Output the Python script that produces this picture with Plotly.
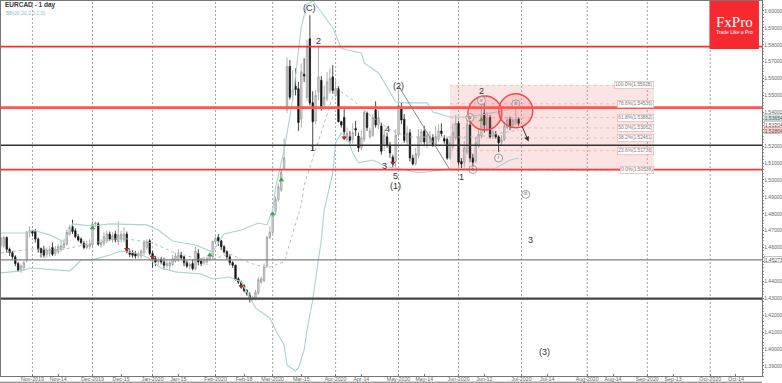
import plotly.graph_objects as go

bar_open = [1.4615,1.4610,1.4660,1.4590,1.4570,1.4545,1.4505,1.4470,1.4480,1.4525,
1.4690,1.4695,1.4695,1.4650,1.4595,1.4590,1.4560,1.4565,1.4600,1.4565,
1.4575,1.4590,1.4600,1.4620,1.4680,1.4725,1.4700,1.4665,1.4650,1.4625,
1.4600,1.4605,1.4615,1.4740,1.4740,1.4615,1.4625,1.4640,1.4680,1.4645,
1.4680,1.4635,1.4650,1.4645,1.4680,1.4575,1.4570,1.4565,1.4550,1.4550,
1.4570,1.4600,1.4640,1.4565,1.4535,1.4515,1.4530,1.4515,1.4495,1.4490,
1.4500,1.4520,1.4530,1.4555,1.4545,1.4510,1.4490,1.4505,1.4475,1.4565,
1.4520,1.4510,1.4515,1.4530,1.4545,1.4635,1.4660,1.4640,1.4605,1.4575,
1.4545,1.4510,1.4495,1.4415,1.4395,1.4375,1.4345,1.4315,1.4295,1.4300,
1.4330,1.4395,1.4405,1.4490,1.4660,1.4690,1.4815,1.4885,1.4940,1.5070,
1.5415,1.5672,1.5505,1.5555,1.5540,1.5360,1.5625,1.5490,1.5835,1.5457,
1.5350,1.5520,1.5590,1.5445,1.5480,1.5525,1.5610,1.5500,1.5540,1.5345,
1.5370,1.5240,1.5255,1.5240,1.5305,1.5260,1.5190,1.5240,1.5395,1.5255,
1.5265,1.5415,1.5325,1.5320,1.5205,1.5255,1.5205,1.5135,1.5110,1.5270,
1.5430,1.5360,1.5225,1.5280,1.5130,1.5095,1.5145,1.5225,1.5290,1.5210,
1.5220,1.5250,1.5215,1.5240,1.5290,1.5245,1.5240,1.5130,1.5195,1.5250,
1.5335,1.5110,1.5105,1.5165,1.5325,1.5130,1.5115,1.5200,1.5260,1.5395,
1.5300,1.5370,1.5260,1.5270,1.5255,1.5225,1.5240,1.5310,1.5360,1.5325,1.5335,1.5360]
bar_high = [1.4665,1.4668,1.4665,1.4600,1.4580,1.4555,1.4515,1.4500,1.4520,1.4700,
1.4725,1.4705,1.4710,1.4660,1.4600,1.4610,1.4600,1.4610,1.4630,1.4610,
1.4620,1.4640,1.4650,1.4705,1.4735,1.4765,1.4715,1.4680,1.4660,1.4640,
1.4640,1.4650,1.4760,1.4755,1.4750,1.4650,1.4690,1.4700,1.4695,1.4690,
1.4700,1.4755,1.4700,1.4720,1.4695,1.4590,1.4585,1.4580,1.4575,1.4590,
1.4645,1.4650,1.4650,1.4580,1.4550,1.4545,1.4545,1.4540,1.4525,1.4525,
1.4555,1.4570,1.4590,1.4575,1.4550,1.4525,1.4515,1.4530,1.4605,1.4590,
1.4535,1.4545,1.4545,1.4570,1.4640,1.4665,1.4680,1.4645,1.4615,1.4585,
1.4560,1.4520,1.4500,1.4425,1.4405,1.4385,1.4355,1.4335,1.4315,1.4350,
1.4425,1.4430,1.4505,1.4670,1.4725,1.4810,1.4900,1.4980,1.5060,1.5245,
1.5725,1.5710,1.5650,1.5660,1.5580,1.5690,1.5720,1.5830,1.5975,1.5525,
1.5530,1.5790,1.5615,1.5560,1.5640,1.5660,1.5680,1.5590,1.5555,1.5350,
1.5425,1.5310,1.5290,1.5335,1.5350,1.5280,1.5290,1.5415,1.5405,1.5310,
1.5390,1.5465,1.5410,1.5340,1.5300,1.5280,1.5225,1.5150,1.5300,1.5535,
1.5460,1.5390,1.5320,1.5300,1.5150,1.5190,1.5300,1.5300,1.5320,1.5285,
1.5290,1.5270,1.5320,1.5330,1.5335,1.5265,1.5250,1.5260,1.5335,1.5385,
1.5350,1.5130,1.5230,1.5360,1.5345,1.5155,1.5255,1.5300,1.5450,1.5455,
1.5400,1.5385,1.5300,1.5290,1.5265,1.5265,1.5345,1.5375,1.5375,1.5365,1.5455,1.5370]
bar_low = [1.4600,1.4600,1.4570,1.4550,1.4530,1.4490,1.4455,1.4450,1.4460,1.4510,
1.4660,1.4665,1.4630,1.4570,1.4540,1.4540,1.4540,1.4545,1.4550,1.4550,
1.4560,1.4575,1.4590,1.4610,1.4670,1.4680,1.4655,1.4635,1.4620,1.4590,
1.4590,1.4590,1.4600,1.4720,1.4610,1.4600,1.4610,1.4625,1.4640,1.4630,
1.4630,1.4615,1.4630,1.4630,1.4565,1.4545,1.4540,1.4535,1.4535,1.4535,
1.4555,1.4585,1.4555,1.4480,1.4490,1.4495,1.4500,1.4470,1.4480,1.4465,
1.4490,1.4510,1.4515,1.4530,1.4490,1.4480,1.4470,1.4465,1.4465,1.4495,
1.4490,1.4495,1.4495,1.4520,1.4530,1.4620,1.4610,1.4585,1.4565,1.4530,
1.4495,1.4480,1.4405,1.4385,1.4360,1.4335,1.4315,1.4275,1.4285,1.4290,
1.4320,1.4385,1.4395,1.4480,1.4650,1.4680,1.4795,1.4870,1.4930,1.5060,
1.5395,1.5475,1.5475,1.5500,1.5290,1.5310,1.5580,1.5470,1.5440,1.5178,
1.5330,1.5470,1.5410,1.5415,1.5465,1.5510,1.5510,1.5490,1.5340,1.5310,
1.5250,1.5225,1.5215,1.5215,1.5260,1.5165,1.5175,1.5225,1.5290,1.5245,
1.5255,1.5310,1.5300,1.5150,1.5170,1.5190,1.5130,1.5075,1.5070,1.5255,
1.5330,1.5220,1.5205,1.5110,1.5085,1.5085,1.5130,1.5205,1.5200,1.5190,
1.5205,1.5195,1.5195,1.5225,1.5260,1.5215,1.5120,1.5120,1.5180,1.5235,
1.5085,1.5070,1.5075,1.5150,1.5105,1.5075,1.5100,1.5190,1.5250,1.5280,
1.5285,1.5245,1.5245,1.5245,1.5165,1.5205,1.5230,1.5300,1.5295,1.5310,1.5325,1.5320]
bar_close = [1.4655,1.4660,1.4590,1.4570,1.4545,1.4505,1.4465,1.4490,1.4510,1.4690,
1.4700,1.4685,1.4650,1.4590,1.4570,1.4555,1.4585,1.4590,1.4560,1.4590,
1.4605,1.4610,1.4625,1.4690,1.4720,1.4695,1.4665,1.4645,1.4630,1.4600,
1.4615,1.4620,1.4740,1.4745,1.4620,1.4630,1.4665,1.4680,1.4650,1.4670,
1.4645,1.4675,1.4680,1.4680,1.4575,1.4560,1.4555,1.4550,1.4565,1.4580,
1.4630,1.4635,1.4565,1.4530,1.4515,1.4525,1.4515,1.4495,1.4505,1.4510,
1.4535,1.4550,1.4555,1.4540,1.4510,1.4490,1.4500,1.4475,1.4580,1.4515,
1.4505,1.4530,1.4535,1.4555,1.4635,1.4655,1.4640,1.4605,1.4575,1.4545,
1.4510,1.4495,1.4410,1.4395,1.4370,1.4345,1.4325,1.4295,1.4300,1.4335,
1.4410,1.4415,1.4485,1.4660,1.4690,1.4790,1.4885,1.4960,1.5045,1.5130,
1.5672,1.5490,1.5530,1.5535,1.5340,1.5640,1.5615,1.5790,1.5455,1.5345,
1.5500,1.5610,1.5430,1.5490,1.5580,1.5600,1.5530,1.5540,1.5345,1.5325,
1.5285,1.5275,1.5235,1.5280,1.5295,1.5190,1.5250,1.5400,1.5310,1.5290,
1.5370,1.5325,1.5370,1.5170,1.5265,1.5205,1.5160,1.5105,1.5265,1.5435,
1.5355,1.5235,1.5275,1.5130,1.5095,1.5155,1.5255,1.5285,1.5225,1.5265,
1.5255,1.5210,1.5255,1.5290,1.5275,1.5230,1.5130,1.5220,1.5280,1.5335,
1.5105,1.5095,1.5190,1.5330,1.5130,1.5105,1.5220,1.5270,1.5380,1.5325,
1.5365,1.5255,1.5285,1.5255,1.5220,1.5240,1.5320,1.5355,1.5315,1.5355,1.5360,1.5335]

bb_up_i = [0,9,11,17,22,24,25,32,38,51,55,60,68,74,78,84,90,93,95,96,99,102,105,107,109,112,116,119,121,126,127,132,135,138,142,149,151,157,162,168,177,181]
bb_up_p = [1.4686,1.4686,1.4704,1.4675,1.4634,1.4692,1.4740,1.4728,1.4740,1.4734,1.4704,1.4639,1.4615,1.4574,1.4680,1.4704,1.4745,1.4734,1.4822,1.4953,1.5177,1.5473,1.5905,1.6041,1.6059,1.5994,1.5899,1.5781,1.5769,1.5751,1.5692,1.5633,1.5550,1.5461,1.5456,1.5456,1.5402,1.5373,1.5373,1.5385,1.5414,1.5444]
bb_lo_i = [0,7,10,21,24,26,28,32,38,42,47,51,56,61,70,74,80,84,87,89,92,94,96,99,100,103,104,106,107,109,112,113,116,117,119,121,123,125,130,135,142,146,156,173,178,181]
bb_lo_p = [1.4450,1.4462,1.4479,1.4467,1.4462,1.4491,1.4527,1.4527,1.4556,1.4580,1.4568,1.4544,1.4479,1.4456,1.4444,1.4414,1.4426,1.4396,1.4302,1.4243,1.4207,1.4183,1.4112,1.4024,1.3905,1.3870,1.3888,1.3994,1.4112,1.4290,1.4645,1.4822,1.5041,1.5219,1.5278,1.5254,1.5160,1.5101,1.5118,1.5077,1.5059,1.5041,1.5065,1.5071,1.5118,1.5130]
bb_mid_i = [0,11,21,32,42,53,60,68,74,80,87,93,99,102,105,106,111,117,123,128,135,142,146,157,167,181]
bb_mid_p = [1.4568,1.4592,1.4586,1.4627,1.4657,1.4627,1.4574,1.4538,1.4532,1.4562,1.4509,1.4479,1.4515,1.4686,1.4852,1.4970,1.5237,1.5544,1.5473,1.5396,1.5308,1.5254,1.5254,1.5254,1.5254,1.5296]

tick_idx = [11,20,32,42,53,62,75,85,95,105,117,126,139,148,160,169,182,191,205,214,226,235,248,257]
tick_lab = ["Nov-2019","Nov-14","Dec-2019","Dec-15","Jan-2020","Jan-15","Feb-2020","Feb-18","Mar-2020","Mar-15","Apr-2020","Apr-14","May-2020","May-14","Jun-2020","Jun-12","Jul-2020","Jul-14","Aug-2020","Aug-14","Sep-2020","Sep-13","Oct-2020","Oct-14"]
month_idx = [11,32,53,75,95,117,139,160,182,205,226,248]
y_ticks = [1.39,1.40,1.41,1.42,1.43,1.44,1.46,1.47,1.48,1.49,1.50,1.51,1.52,1.54,1.55,1.56,1.57,1.58,1.59,1.60]

fib_start, fib_end = 157, 228.3
fib_prices = [1.5560,1.5451,1.5369,1.5308,1.5248,1.5173,1.5059]
fib_labels = ["100.0%(1.55928)","78.6%(1.54536)","61.8%(1.53882)","50.0%(1.53062)","38.2%(1.52461)","23.6%(1.51736)","0.0%(1.50538)"]

up_i = [32,73,95,98,139,168]
up_p = [1.4716,1.4556,1.4799,1.5000,1.5432,1.5355]
dn_i = [44,53,84,120,137]
dn_p = [1.4590,1.4544,1.4369,1.5250,1.5101]

big_i = [169.2,180]
big_p = [1.5396,1.5410]
small_i = [164,168,174,165,180,183.5]
small_p = [1.5369,1.5470,1.5130,1.5062,1.5450,1.4915]
small_t = ["iv","v","i","b","iii","iii"]

wave_labels = [("(C)",107.7,1.6018),("2",111,1.5821),("(2)",139,1.5556),("4",135,1.5300),("3",134,1.5083),
               ("5",138,1.5024),("(1)",138,1.4965),("2",168,1.5528),("1",161,1.5019),("3",185.3,1.4645),
               ("(3)",190,1.3985),("1",109,1.5189)]

X0, X1, Y0, Y1 = 0, 266.1, 1.3840, 1.6059

fig = go.Figure()
fig.add_shape(type="rect", x0=fib_start, x1=fib_end, y0=fib_prices[-1], y1=fib_prices[0],
              fillcolor="rgba(236,150,150,0.26)", line_width=0, layer="below")
for p in fib_prices:
    fig.add_shape(type="line", x0=fib_start, x1=fib_end, y0=p, y1=p, layer="below",
                  line=dict(color="#eeb0b0", width=0.8, dash="dot"))
for i in month_idx:
    fig.add_shape(type="line", x0=i, x1=i, yref="paper", y0=0, y1=1, layer="below",
                  line=dict(color="#8c8c8c", width=0.8, dash="2px,2px"))
for p, c, w in [(1.5789,"#ff2e2e",1.6),(1.5428,"#ff5555",2.6),(1.5061,"#ff3333",1.6),
                (1.5205,"#333333",1.4),(1.4527,"#808080",1.1),(1.4298,"#454545",2.2)]:
    fig.add_shape(type="line", x0=X0, x1=X1, y0=p, y1=p, line=dict(color=c, width=w), layer="above")
fig.add_shape(type="line", x0=139, x1=157, y0=1.5556, y1=1.5059, line=dict(color="#8a8a8a", width=1))

fig.add_trace(go.Scatter(x=bb_up_i, y=bb_up_p, mode="lines", line=dict(color="#a9d3d3", width=1.1), hoverinfo="skip"))
fig.add_trace(go.Scatter(x=bb_lo_i, y=bb_lo_p, mode="lines", line=dict(color="#a9d3d3", width=1.1), hoverinfo="skip"))
fig.add_trace(go.Scatter(x=bb_mid_i, y=bb_mid_p, mode="lines", line=dict(color="#a5b8b8", width=0.9, dash="dot"), hoverinfo="skip"))
fig.add_trace(go.Candlestick(x=list(range(len(bar_open))), open=bar_open, high=bar_high, low=bar_low, close=bar_close,
    increasing=dict(line=dict(color="#9a9a9a", width=0.8), fillcolor="#e2e2e2"),
    decreasing=dict(line=dict(color="#1a1a1a", width=0.8), fillcolor="#111111"),
    whiskerwidth=0, hoverinfo="skip"))
fig.add_trace(go.Scatter(x=up_i, y=up_p, mode="markers", marker=dict(symbol="triangle-up", size=5, color="#2fa84a"), hoverinfo="skip"))
fig.add_trace(go.Scatter(x=dn_i, y=dn_p, mode="markers", marker=dict(symbol="triangle-down", size=5, color="#b02a2a"), hoverinfo="skip"))
fig.add_trace(go.Scatter(x=big_i, y=big_p, mode="markers", marker=dict(size=34, color="rgba(240,110,110,0.22)", line=dict(color="#f04848", width=1.4)), hoverinfo="skip"))
fig.add_trace(go.Scatter(x=small_i, y=small_p, mode="markers+text", text=small_t, textposition="middle center",
    textfont=dict(size=4.5, color="#555555", family="Liberation Sans"),
    marker=dict(size=8, color="rgba(255,255,255,0.35)", line=dict(color="#888888", width=0.8)), hoverinfo="skip"))

for t, x, y in wave_labels:
    fig.add_annotation(x=x, y=y, text=t, showarrow=False, font=dict(size=9, color="#333333", family="Liberation Sans"))
for t, p in zip(fib_labels, fib_prices):
    fig.add_annotation(x=fib_end, y=p, text=t, showarrow=False, xanchor="right",
                       font=dict(size=4.8, color="#777777", family="Liberation Sans"),
                       bgcolor="white", bordercolor="#efb0b0", borderwidth=0.7, borderpad=0.6)
fig.add_annotation(x=184.5, y=1.5227, ax=182, ay=1.5325, axref="x", ayref="y", text="", showarrow=True,
                   arrowhead=2, arrowsize=1, arrowwidth=1, arrowcolor="#333333")

fig.add_shape(type="rect", xref="paper", yref="paper", x0=0.931, x1=0.996, y0=0.872, y1=1.0,
              fillcolor="#f5292f", line_width=0, layer="above")
fig.add_annotation(xref="paper", yref="paper", x=0.9635, y=0.945, text="FxPro", showarrow=False,
                   xanchor="center", yanchor="middle", font=dict(size=15, color="white", family="Liberation Serif"))
fig.add_annotation(xref="paper", yref="paper", x=0.9635, y=0.917, text="Trade Like a Pro", showarrow=False,
                   xanchor="center", yanchor="middle", font=dict(size=5, color="white", family="Liberation Sans"))
fig.add_annotation(xref="paper", yref="paper", x=0.003, y=0.989, text="<b>EURCAD - 1 day</b>", showarrow=False,
                   xanchor="left", yanchor="middle", font=dict(size=6.5, color="#333333", family="Liberation Sans"))
fig.add_annotation(xref="paper", yref="paper", x=0.004, y=0.969, text="BB(20,20,2.0,2.0)", showarrow=False,
                   xanchor="left", yanchor="middle", font=dict(size=5, color="#8fbcbc", family="Liberation Sans"))
for t, p, bg, bc in [("1.53654",1.5368,"#d5e6e6","#9dbcbc"),("1.53204",1.5331,"#ffffff","#999999"),("1.52804",1.5294,"#f6d0d0","#e08080"),("1.45271",1.4527,"#ffffff","#888888")]:
    fig.add_annotation(xref="paper", yref="y", x=1.002, y=p, text=t, showarrow=False, xanchor="left", yanchor="middle",
                       font=dict(size=5, color="#555555", family="Liberation Sans"),
                       bgcolor=bg, bordercolor=bc, borderwidth=0.5, borderpad=0.2)
fig.add_shape(type="line", xref="paper", yref="paper", x0=-0.002, x1=1.0, y0=-0.0166, y1=-0.0166, line=dict(color="#777777", width=1))

fig.update_layout(width=782, height=383, margin=dict(l=1, r=20, t=1, b=7, pad=0), showlegend=False,
    paper_bgcolor="white", plot_bgcolor="white",
    xaxis=dict(range=[X0, X1], rangeslider=dict(visible=False), tickmode="array", tickvals=tick_idx, ticktext=tick_lab,
               tickangle=0, tickfont=dict(size=5.3, color="#666666", family="Liberation Sans"), ticks="inside", ticklen=2, tickcolor="#777777",
               ticklabelstandoff=-3,
               showgrid=False, zeroline=False, showline=True, linecolor="#777777", linewidth=1.4, mirror=True, automargin=False),
    yaxis=dict(range=[Y0, Y1], side="right", tickmode="array", tickvals=y_ticks, ticktext=["%.5f" % v for v in y_ticks],
               tickfont=dict(size=5, color="#666666", family="Liberation Sans"), ticks="outside", ticklen=1, tickcolor="#777777",
               ticklabelstandoff=-1,
               minor=dict(dtick=0.002, ticks="outside", ticklen=1, tickcolor="#999999"),
               showgrid=False, zeroline=False, showline=True, linecolor="#777777", linewidth=1.4, mirror=True, automargin=False),
)
fig.write_html("out.html", config=dict(displayModeBar=False), post_script="document.body.style.margin='0';")
